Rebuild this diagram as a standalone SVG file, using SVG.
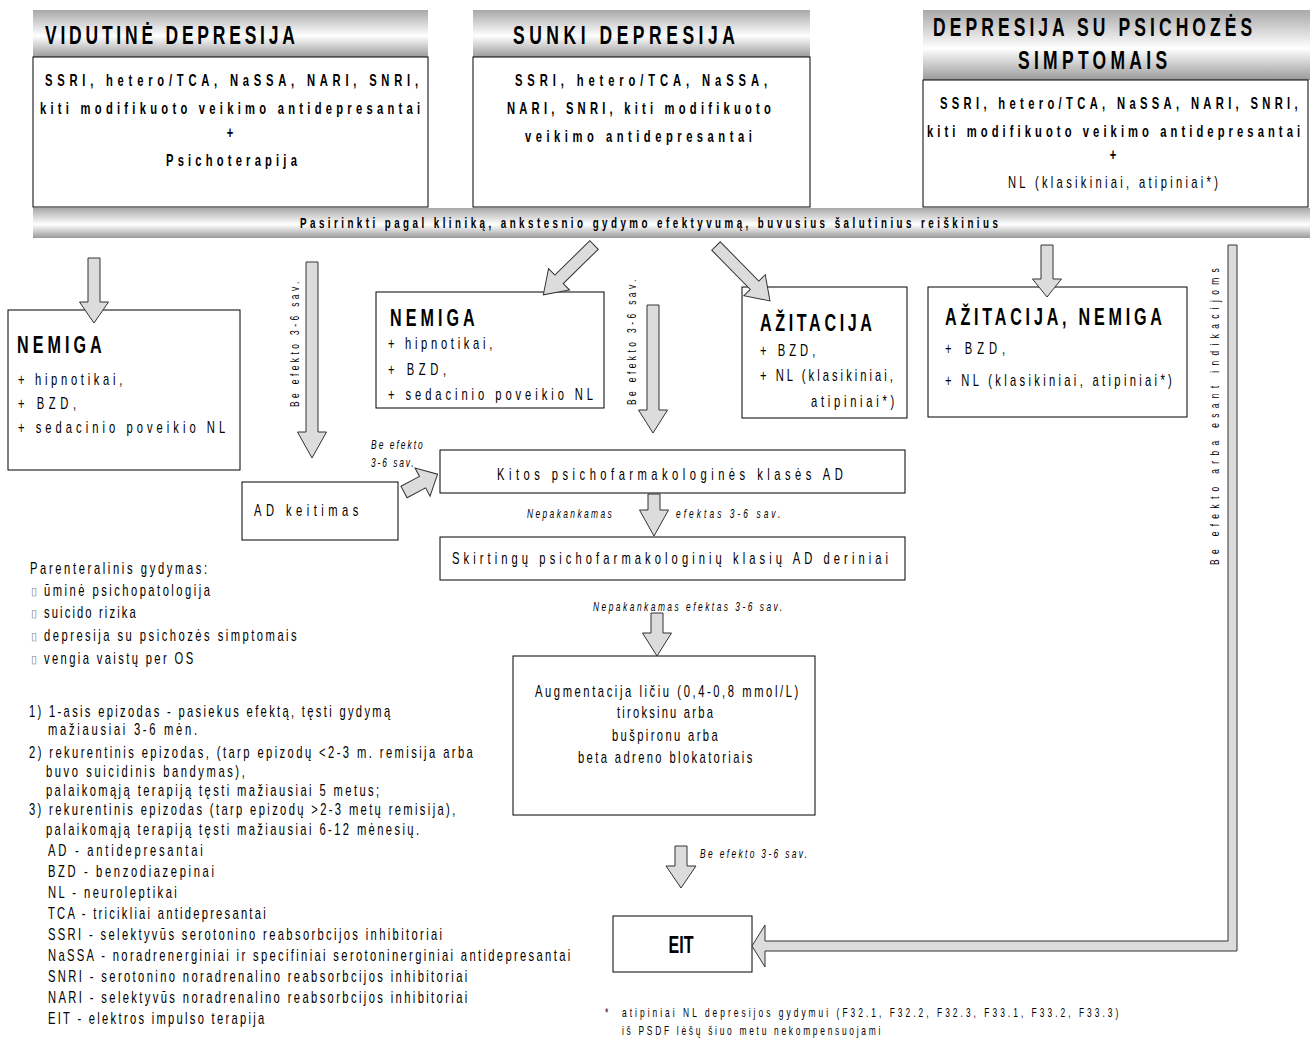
<svg xmlns="http://www.w3.org/2000/svg" width="1310" height="1062" viewBox="0 0 1310 1062">
<defs>
<linearGradient id="g" x1="0" y1="0" x2="0" y2="1">
<stop offset="0" stop-color="#a8a8a8"/>
<stop offset="0.55" stop-color="#ffffff"/>
<stop offset="1" stop-color="#9a9a9a"/>
</linearGradient>
<style>
text{font-family:"Liberation Sans",Arial,sans-serif;fill:#000}
.t{font-size:16px}
.b{font-size:16px;font-weight:bold}
.h{font-size:25px;font-weight:bold}
.hn{font-size:23px;font-weight:bold}
.s{font-size:14px;font-weight:bold}
.i{font-size:12px;font-style:italic}
.r{font-size:12px}
.box{fill:#fff;stroke:#000;stroke-width:1}
.bar{fill:url(#g)}
.arr{fill:#dcdcdc;stroke:#333;stroke-width:1}
.bul{font-size:11px;fill:#888}
</style>
</defs>
<rect width="1310" height="1062" fill="#fff"/>

<g id="vidutine">
<rect class="bar" x="33" y="10" width="395" height="47"/>
<text class="h" transform="matrix(0.7 0 0 1 45 44)" textLength="357">VIDUTINĖ DEPRESIJA</text>
<rect class="box" x="33" y="57" width="395" height="150"/>
<text class="b" transform="matrix(0.7 0 0 1 45 86)" textLength="533">SSRI, hetero/TCA, NaSSA, NARI, SNRI,</text>
<text class="b" transform="matrix(0.7 0 0 1 40 114)" textLength="543">kiti modifikuoto veikimo antidepresantai</text>
<text class="b" transform="matrix(0.7 0 0 1 230 138)" text-anchor="middle">+</text>
<text class="b" transform="matrix(0.7 0 0 1 166 166)" textLength="187">Psichoterapija</text>
</g>

<g id="sunki">
<rect class="bar" x="473" y="10" width="337" height="47"/>
<text class="h" transform="matrix(0.7 0 0 1 513 44)" textLength="317">SUNKI DEPRESIJA</text>
<rect class="box" x="473" y="57" width="337" height="150"/>
<text class="b" transform="matrix(0.7 0 0 1 515 86)" textLength="360">SSRI, hetero/TCA, NaSSA,</text>
<text class="b" transform="matrix(0.7 0 0 1 507 114)" textLength="377">NARI, SNRI, kiti modifikuoto</text>
<text class="b" transform="matrix(0.7 0 0 1 525 142)" textLength="324">veikimo antidepresantai</text>
</g>

<g id="psichoze">
<rect class="bar" x="923" y="10" width="387" height="70"/>
<text class="h" transform="matrix(0.7 0 0 1 933 36)" textLength="456">DEPRESIJA SU PSICHOZĖS</text>
<text class="h" transform="matrix(0.7 0 0 1 1018 69)" textLength="213">SIMPTOMAIS</text>
<rect class="box" x="923" y="80" width="385" height="127"/>
<text class="b" transform="matrix(0.7 0 0 1 940 109)" textLength="511">SSRI, hetero/TCA, NaSSA, NARI, SNRI,</text>
<text class="b" transform="matrix(0.7 0 0 1 927 137)" textLength="533">kiti modifikuoto veikimo antidepresantai</text>
<text class="b" transform="matrix(0.7 0 0 1 1113 160)" text-anchor="middle">+</text>
<text class="t" transform="matrix(0.7 0 0 1 1008 188)" textLength="300">NL (klasikiniai, atipiniai*)</text>
</g>

<g id="pasirinkti">
<rect class="bar" x="33" y="208" width="1277" height="30"/>
<text class="s" transform="matrix(0.7 0 0 1 300 228)" textLength="997">Pasirinkti pagal kliniką, ankstesnio gydymo efektyvumą, buvusius šalutinius reiškinius</text>
</g>

<g id="nemiga1">
<rect class="box" x="8" y="310" width="232" height="160"/>
<text class="hn" transform="matrix(0.7 0 0 1 17 353)" textLength="121">NEMIGA</text>
<text class="t" transform="matrix(0.7 0 0 1 18 385)" textLength="149">+ hipnotikai,</text>
<text class="t" transform="matrix(0.7 0 0 1 18 409)" textLength="83">+ BZD,</text>
<text class="t" transform="matrix(0.7 0 0 1 18 433)" textLength="296">+ sedacinio poveikio NL</text>
</g>

<g id="nemiga2">
<rect class="box" x="376" y="292" width="228" height="116"/>
<text class="hn" transform="matrix(0.7 0 0 1 390 326)" textLength="121">NEMIGA</text>
<text class="t" transform="matrix(0.7 0 0 1 388 349)" textLength="149">+ hipnotikai,</text>
<text class="t" transform="matrix(0.7 0 0 1 388 375)" textLength="83">+ BZD,</text>
<text class="t" transform="matrix(0.7 0 0 1 388 400)" textLength="293">+ sedacinio poveikio NL</text>
</g>

<g id="azitacija">
<rect class="box" x="742" y="287" width="165" height="131"/>
<text class="hn" transform="matrix(0.7 0 0 1 760 331)" textLength="160">AŽITACIJA</text>
<text class="t" transform="matrix(0.7 0 0 1 760 356)" textLength="79">+ BZD,</text>
<text class="t" transform="matrix(0.7 0 0 1 760 381)" textLength="190">+ NL (klasikiniai,</text>
<text class="t" transform="matrix(0.7 0 0 1 811 407)" textLength="119">atipiniai*)</text>
</g>

<g id="azitacija-nemiga">
<rect class="box" x="928" y="287" width="259" height="130"/>
<text class="hn" transform="matrix(0.7 0 0 1 945 325)" textLength="310">AŽITACIJA, NEMIGA</text>
<text class="t" transform="matrix(0.7 0 0 1 945 354)" textLength="86">+ BZD,</text>
<text class="t" transform="matrix(0.7 0 0 1 945 386)" textLength="324">+ NL (klasikiniai, atipiniai*)</text>
</g>

<g id="ad-keitimas">
<rect class="box" x="242" y="482" width="156" height="58"/>
<text class="t" transform="matrix(0.7 0 0 1 254 516)" textLength="149">AD keitimas</text>
</g>

<g id="kitos">
<rect class="box" x="440" y="450" width="465" height="43"/>
<text class="t" transform="matrix(0.7 0 0 1 497 480)" textLength="494">Kitos psichofarmakologinės klasės AD</text>
</g>

<g id="skirtingu">
<rect class="box" x="440" y="537" width="465" height="43"/>
<text class="t" transform="matrix(0.7 0 0 1 452 564)" textLength="623">Skirtingų psichofarmakologinių klasių AD deriniai</text>
</g>

<g id="augmentacija">
<rect class="box" x="513" y="656" width="302" height="159"/>
<text class="t" transform="matrix(0.7 0 0 1 535 697)" textLength="376">Augmentacija ličiu (0,4-0,8 mmol/L)</text>
<text class="t" transform="matrix(0.7 0 0 1 617 718)" textLength="137">tiroksinu arba</text>
<text class="t" transform="matrix(0.7 0 0 1 612 741)" textLength="151">bušpironu arba</text>
<text class="t" transform="matrix(0.7 0 0 1 578 763)" textLength="249">beta adreno blokatoriais</text>
</g>

<g id="eit">
<rect class="box" x="613" y="916" width="139" height="56"/>
<text class="hn" transform="matrix(0.7 0 0 1 681 953)" text-anchor="middle" textLength="36">EIT</text>
</g>

<g id="connectors">
<polygon class="arr" points="88,258 100,258 100,302 108.5,302 94,323 79.5,302 88,302"/>
<polygon class="arr" points="306,262 318,262 318,432 326.5,432 312,458 297.5,432 306,432"/>
<polygon class="arr" points="647,305 659,305 659,410 667.5,410 653,433 638.5,410 647,410"/>
<polygon class="arr" points="1041,245 1053,245 1053,279 1061.5,279 1047,297 1032.5,279 1041,279"/>
<polygon class="arr" points="648,494 660,494 660,510 668.5,510 654,536 639.5,510 648,510"/>
<polygon class="arr" points="651,613 663,613 663,633 671.5,633 657,656 642.5,633 651,633"/>
<polygon class="arr" points="675,846 687,846 687,866 696,866 681,888 666,866 675,866"/>
<polygon class="arr" transform="translate(594,245) rotate(135.5)" points="0,-6 49,-6 49,-15 71,0 49,15 49,6 0,6"/>
<polygon class="arr" transform="translate(716,246) rotate(45.5)" points="0,-6 55,-6 55,-15 77,0 55,15 55,6 0,6"/>
<polygon class="arr" transform="translate(404,492) rotate(-28)" points="0,-6.5 21,-6.5 21,-16 38,0 21,16 21,6.5 0,6.5"/>
<polygon class="arr" points="1228,245 1237,245 1237,951 765,951 765,967 752,946 765,925 765,941 1228,941"/>
</g>

<g id="labels">
<text class="r" transform="translate(299,407) rotate(-90) scale(0.7,1)" textLength="179">Be efekto 3-6 sav.</text>
<text class="r" transform="translate(636,405) rotate(-90) scale(0.7,1)" textLength="179">Be efekto 3-6 sav.</text>
<text class="r" transform="translate(1219,565) rotate(-90) scale(0.7,1)" textLength="424">Be efekto arba esant indikacijoms</text>
<text class="i" transform="matrix(0.7 0 0 1 371 449)" textLength="74">Be efekto</text>
<text class="i" transform="matrix(0.7 0 0 1 371 467)" textLength="61">3-6 sav.</text>
<text class="i" transform="matrix(0.7 0 0 1 527 518)" textLength="121">Nepakankamas</text>
<text class="i" transform="matrix(0.7 0 0 1 676 518)" textLength="149">efektas 3-6 sav.</text>
<text class="i" transform="matrix(0.7 0 0 1 593 611)" textLength="270">Nepakankamas efektas 3-6 sav.</text>
<text class="i" transform="matrix(0.7 0 0 1 700 858)" textLength="153">Be efekto 3-6 sav.</text>
</g>

<g id="notes">
<text class="t" transform="matrix(0.7 0 0 1 30 574)" textLength="253">Parenteralinis gydymas:</text>
<text class="bul" x="31" y="595">▯</text>
<text class="t" transform="matrix(0.7 0 0 1 44 596)" textLength="237">ūminė psichopatologija</text>
<text class="bul" x="31" y="617">▯</text>
<text class="t" transform="matrix(0.7 0 0 1 44 618)" textLength="131">suicido rizika</text>
<text class="bul" x="31" y="640">▯</text>
<text class="t" transform="matrix(0.7 0 0 1 44 641)" textLength="361">depresija su psichozės simptomais</text>
<text class="bul" x="31" y="663">▯</text>
<text class="t" transform="matrix(0.7 0 0 1 44 664)" textLength="213">vengia vaistų per OS</text>
<text class="t" transform="matrix(0.7 0 0 1 29 717)" textLength="516">1) 1-asis epizodas - pasiekus efektą, tęsti gydymą</text>
<text class="t" transform="matrix(0.7 0 0 1 48 735)" textLength="213">mažiausiai 3-6 mėn.</text>
<text class="t" transform="matrix(0.7 0 0 1 29 758)" textLength="634">2) rekurentinis epizodas, (tarp epizodų &lt;2-3 m. remisija arba</text>
<text class="t" transform="matrix(0.7 0 0 1 46 777)" textLength="284">buvo suicidinis bandymas),</text>
<text class="t" transform="matrix(0.7 0 0 1 46 796)" textLength="476">palaikomąją terapiją tęsti mažiausiai 5 metus;</text>
<text class="t" transform="matrix(0.7 0 0 1 29 815)" textLength="609">3) rekurentinis epizodas (tarp epizodų &gt;2-3 metų remisija),</text>
<text class="t" transform="matrix(0.7 0 0 1 46 835)" textLength="533">palaikomąją terapiją tęsti mažiausiai 6-12 mėnesių.</text>
<text class="t" transform="matrix(0.7 0 0 1 48 856)" textLength="221">AD  - antidepresantai</text>
<text class="t" transform="matrix(0.7 0 0 1 48 877)" textLength="237">BZD - benzodiazepinai</text>
<text class="t" transform="matrix(0.7 0 0 1 48 898)" textLength="184">NL - neuroleptikai</text>
<text class="t" transform="matrix(0.7 0 0 1 48 919)" textLength="311">TCA - tricikliai antidepresantai</text>
<text class="t" transform="matrix(0.7 0 0 1 48 940)" textLength="563">SSRI - selektyvūs serotonino reabsorbcijos inhibitoriai</text>
<text class="t" transform="matrix(0.7 0 0 1 48 961)" textLength="746">NaSSA - noradrenerginiai ir specifiniai serotoninerginiai antidepresantai</text>
<text class="t" transform="matrix(0.7 0 0 1 48 982)" textLength="599">SNRI - serotonino noradrenalino reabsorbcijos inhibitoriai</text>
<text class="t" transform="matrix(0.7 0 0 1 48 1003)" textLength="599">NARI - selektyvūs noradrenalino reabsorbcijos inhibitoriai</text>
<text class="t" transform="matrix(0.7 0 0 1 48 1024)" textLength="309">EIT - elektros impulso terapija</text>
<text class="r" transform="matrix(0.7 0 0 1 605 1017)">*</text>
<text class="r" transform="matrix(0.7 0 0 1 622 1017)" textLength="709">atipiniai NL depresijos gydymui (F32.1, F32.2, F32.3, F33.1, F33.2, F33.3)</text>
<text class="r" transform="matrix(0.7 0 0 1 622 1035)" textLength="369">iš PSDF lėšų šiuo metu nekompensuojami</text>
</g>
</svg>
